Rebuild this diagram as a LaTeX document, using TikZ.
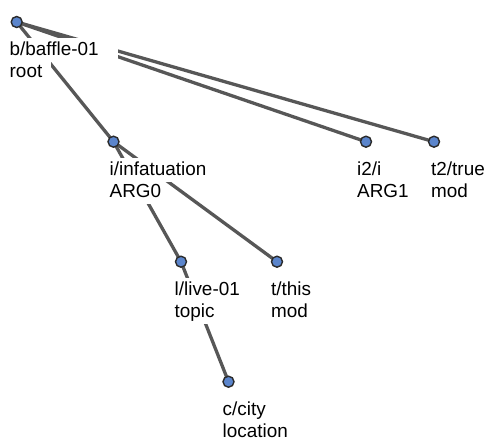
\documentclass[tikz,border=0pt]{standalone}
\usepackage{fontspec}
\setmainfont{Liberation Sans}
\usepackage{tikz}
\usetikzlibrary{positioning, backgrounds}

\begin{document}
\begin{tikzpicture}[
    x=1pt, y=-1pt,
    dot/.style={circle, draw=dotborder, fill=dotfill, line width=1.4pt,
        minimum size=11pt, inner sep=0pt},
    edge/.style={draw=edgegray, line width=3.3pt},
    lbl/.style={fill=white, inner xsep=4pt, inner ysep=3pt, anchor=base west,
        text height=14pt, text depth=4pt, font=\fontsize{18.9}{22}\selectfont},
]

% ── Colors ──
\definecolor{dotborder}{HTML}{2B2B2B}
\definecolor{dotfill}{HTML}{5B85CC}
\definecolor{edgegray}{HTML}{575757}

\useasboundingbox (0,0) rectangle (487,440);

% ══════════════════════════════════════════════
% Concept nodes
% ══════════════════════════════════════════════
\coordinate (baffle) at (16.7,22);
\coordinate (infat) at (113.5,141.7);
\coordinate (ii) at (366,141.7);
\coordinate (true) at (434,141.7);
\coordinate (live) at (181,261.7);
\coordinate (this) at (277,261.7);
\coordinate (city) at (228.5,381.7);

% ══════════════════════════════════════════════
% Edges (under everything)
% ══════════════════════════════════════════════
\draw[edge] (baffle) -- (infat);
\draw[edge] (baffle) -- (ii);
\draw[edge] (baffle) -- (true);
\draw[edge] (infat) -- (live);
\draw[edge] (infat) -- (this);
\draw[edge] (live) -- (city);

% ══════════════════════════════════════════════
% Labels: concept on top line, role below
% ══════════════════════════════════════════════
\node[lbl, text width=104pt, align=left] (bafflename) at (5.5,55.3) {b/baffle-01};
\node[lbl, text width=37pt, align=left] (bafflerole) at (5.5,77.3) {root};

\node[lbl] (infatname) at (105.5,175) {i/infatuation};
\node[lbl] (infatrole) at (105.5,197) {ARG0};

\node[lbl] (iiname) at (353,175) {i2/i};
\node[lbl] (iirole) at (353,197) {ARG1};

\node[lbl] (truename) at (427,175) {t2/true};
\node[lbl] (truerole) at (427,197) {mod};

\node[lbl] (livename) at (170.5,295) {l/live-01};
\node[lbl] (liverole) at (170.5,317) {topic};

\node[lbl] (thisname) at (267,295) {t/this};
\node[lbl] (thisrole) at (267,317) {mod};

\node[lbl] (cityname) at (218.5,415) {c/city};
\node[lbl] (cityrole) at (218.5,437) {location};

% ══════════════════════════════════════════════
% Dots on top
% ══════════════════════════════════════════════
\node[dot] (baffledot) at (baffle) {};
\node[dot] (infatdot) at (infat) {};
\node[dot] (iidot) at (ii) {};
\node[dot] (truedot) at (true) {};
\node[dot] (livedot) at (live) {};
\node[dot] (thisdot) at (this) {};
\node[dot] (citydot) at (city) {};

\end{tikzpicture}
\end{document}
